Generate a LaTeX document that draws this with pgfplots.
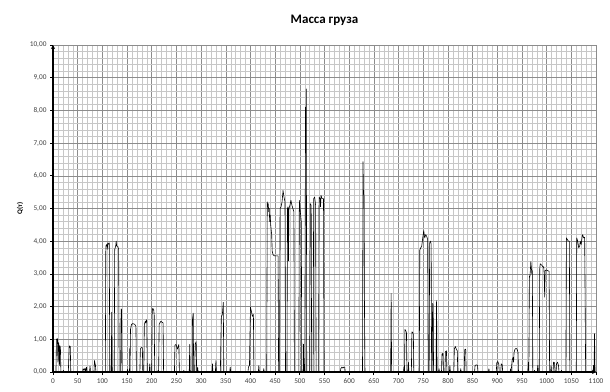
\documentclass[border=0pt]{standalone}
\usepackage{fontspec}
\setmainfont{Carlito}
\usepackage{pgfplots}
\pgfplotsset{compat=1.18}
\usetikzlibrary{arrows.meta}
\begin{document}
\begin{tikzpicture}
\useasboundingbox (-53pt,-19pt) rectangle (557pt,372pt);
\begin{axis}[
  anchor=south west, at={(0,0)},
  scale only axis, width=543pt, height=327pt,
  xmin=0, xmax=1100, ymin=0, ymax=10,
  axis lines=left,
  axis line style={black, line width=1.2pt, -{Stealth[length=4pt,width=4pt]}},
  xtick distance=50, ytick distance=1,
  minor x tick num=4, minor y tick num=4,
  grid=both,
  major grid style={draw=black!45, line width=0.5pt},
  minor grid style={draw=black!22, line width=0.4pt},
  tick align=outside, major tick length=3pt, minor tick length=0pt,
  tick style={black, line width=0.8pt},
  /pgf/number format/assume math mode=true,
  tick label style={font=\fontsize{7.3}{8}\selectfont, text=black!75},
  x tick label style={/pgf/number format/.cd, 1000 sep={}},
  y tick label style={/pgf/number format/.cd, fixed, fixed zerofill, precision=2, use comma},
  title={Масса груза},
  title style={font=\fontsize{13}{15}\selectfont\bfseries, at={(0.5,1)}, anchor=center, yshift=19pt},
  ylabel={Q(т)},
  ylabel style={font=\fontsize{7}{8}\selectfont\bfseries, at={(axis description cs:-0.0608,0.5)}, anchor=center},
]
\addplot[black, line width=0.6pt, line join=round, no marks] coordinates {
(0,0)
(6,0) (7,1.0) (9,1.02) (10,0.3) (11,0.9) (12,0.85) (13,0.2) (14,0.8) (15,0.75) (16,0)
(20,0) (21,0.05) (22,0)
(31,0) (33,0.8) (35,0.78) (36,0)
(60,0) (61,0.1) (63,0.05) (65,0.12) (66,0) (68,0.15) (69,0) (74,0) (75,0.18) (76,0)
(83,0) (84,0.35) (86,0.2) (87,0)
(106,0) (107,3.85) (109,3.9) (110,3.75) (111,3.95) (113,3.9) (114,3.95) (115,0)
(118,0) (119,1.83) (120,0)
(124,0) (125,3.75) (127,3.85) (128,4.0) (129,3.85) (131,3.85) (132,3.8) (133,3.75) (134,0)
(137,0) (138,1.93) (139,1.9) (140,0)
(150,0) (151,0.08) (152,0) (155,0) (155.5,0.71) (156,0) (157,1.3) (159,1.45) (161,1.48) (164,1.47) (166,1.45) (168,1.4) (169,0)
(176,0) (177,0.7) (179,0.75) (181,0.74) (182,0)
(184,0) (185,1.45) (187,1.55) (188,1.5) (189,1.6) (190,1.55) (191,0)
(195,0) (196,0.25) (197,0)
(200,0) (201,1.85) (202,1.95) (204,1.9) (205,1.75) (206,0)
(212,0) (213,0.05) (214,0) (215,1.45) (217,1.52) (219,1.55) (221,1.52) (223,1.5) (224,0)
(246,0) (247,0.82) (249,0.84) (250,0.8) (252,0.7) (254,0.8) (255,0.84) (256,0)
(264,0) (265,0.05) (266,0)
(276,0) (277,0.84) (278,0) (282,0) (282.5,1.6) (284,1.8) (285,0) (287,0) (288,0.85) (290,0.93) (291,0)
(292,0) (293,0.15) (294,0)
(322,0) (323,0.25) (324,0) (329,0) (330,0.35) (331,0)
(339,0) (341,1.7) (343,1.75) (345,2.13) (346,0)
(358,0) (359,0.15) (360,0)
(395,0) (396,0.15) (398,0.2) (400,1.98) (402,1.85) (404,1.7) (406,1.76) (407,0)
(416,0) (417,0.2) (418,0)
(426,0) (427,0.1) (428,0)
(433,0) (434,5.2) (435,5.05) (436,5.15) (437,4.9) (438,5.0) (439,4.6) (440,4.8) (441,4.5) (443,4.2) (444,3.7) (446,3.58) (449,3.55) (452,3.55) (456,3.55) (457,0)
(459,0) (460,5.0) (462,5.05) (464,5.2) (466,5.55) (468,5.35) (470,5.2) (471,0)
(474,0) (475,5.0) (476,5.05) (477,3.4) (478,5.0) (480,5.1) (482,5.25) (484,5.1) (486,5.0) (488,4.9) (489,0)
(498,0) (499,5.25) (501,4.9) (503,4.6) (504,0)
(507,0) (507.5,0.85) (508,0)
(510,0) (511,5.0) (511.5,8.1) (512,6.7) (513,8.66) (513.5,4.85) (514,0)
(520,0) (521,5.15) (523,5.1) (524,0)
(527,0) (528,5.3) (530,5.35) (532,5.1) (533,0)
(538,0) (539,5.35) (541,5.3) (542,5.05) (543,5.4) (545,5.3) (548,5.3) (549,0)
(582,0) (583,0.1) (585,0.15) (587,0.12) (589,0.15) (591,0.15) (592,0)
(627,0) (628,6.43) (629,5.46) (630,5.4) (631,1.9) (632,0)
(684,0) (685,2.4) (686,0)
(710,0) (711,0.15) (712,0) (713,1.3) (715,1.25) (716,1.2) (717,0) (719,0) (720,0.3) (721,0) (726,0) (727,1.23) (729,1.2) (730,1.15) (731,0)
(742,0) (743,3.73) (745,3.8) (747,3.85) (749,4.1) (751,4.32) (753,4.1) (755,4.2) (757,4.15) (759,4.05) (760,0)
(762,0) (763,3.95) (765,4.0) (766,3.9) (767,0)
(768,0) (769,2.1) (770,2.05) (771,0)
(776,0) (777,2.18) (778,0)
(781,0) (782,0.1) (783,0)
(787,0) (788,0.55) (790,0.57) (791,0) (794,0) (795,0.62) (797,0.65) (798,0) (803,0) (804,0.2) (805,0)
(812,0) (813,0.7) (815,0.78) (817,0.7) (819,0.65) (820,0) (825,0) (826,0.1) (827,0) (833,0) (834,0.68) (836,0.7) (837,0)
(854,0) (855,0.2) (858,0.22) (860,0.2) (861,0)
(882,0) (883,0.1) (884,0)
(898,0) (899,0.28) (901,0.32) (903,0.25) (904,0) (907,0) (908,0.25) (910,0.22) (911,0)
(926,0) (927,0.1) (928,0) (930,0.35) (932,0.45) (933,0.3) (934,0.6) (936,0.7) (938,0.72) (940,0.7) (942,0.6) (943,0)
(962,0) (963,0.3) (964,0) (965,2.93) (966,2.9) (967,3.1) (968,3.38) (969,3.2) (970,3.0) (971,3.1) (972,0)
(975,0) (975.5,0.05) (976,0) (981,0) (982,0.2) (983,0)
(985,0) (986,3.15) (987,3.31) (989,3.28) (991,3.25) (993,3.2) (994,3.22) (995,3.0) (996,2.29) (997,3.1) (999,3.12) (1002,3.1) (1005,3.08) (1006,0)
(1008,0) (1009,0.2) (1010,0) (1013,0) (1014,0.3) (1016,0.28) (1017,0) (1019,0) (1020,0.25) (1022,0.3) (1024,0.2) (1025,0) (1029,0) (1030,0.05) (1031,0)
(1039,0) (1040,4.1) (1042,4.05) (1044,4.0) (1046,4.0) (1047,0)
(1060,0) (1061,4.1) (1063,4.0) (1065,3.8) (1067,3.85) (1068,4.0) (1070,3.9) (1072,4.15) (1073,4.2) (1075,4.1) (1077,4.12) (1078,2.2) (1079,0)
(1094,0) (1095,0.2) (1096,0) (1097,1.17) (1098,0) (1100,0)
};
\end{axis}
\end{tikzpicture}
\end{document}
